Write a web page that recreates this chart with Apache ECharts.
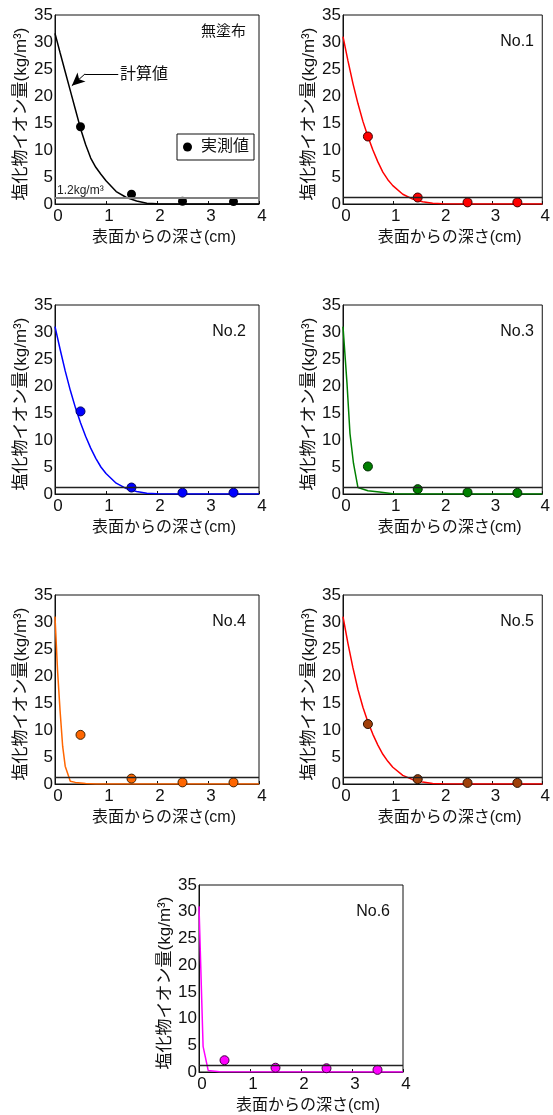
<!DOCTYPE html>
<html>
<head>
<meta charset="utf-8">
<script src="https://cdn.jsdelivr.net/npm/echarts@6/dist/echarts.min.js"></script>
<style>
  html, body { margin: 0; padding: 0; background: #fff; }
  #chart { width: 553px; height: 1115px; }
</style>
</head>
<body>
<div id="chart"></div>
<script>
// ---- data ---------------------------------------------------------------
// Depth from surface (cm) of the measured slices
const measuredDepth = [0.5, 1.5, 2.5, 3.5];

// Panel labels
const panelTitles = ['無塗布', 'No.1', 'No.2', 'No.3', 'No.4', 'No.5', 'No.6'];

// Measured chloride ion content (kg/m3)
const measuredNone = [14.3, 1.8, 0.5, 0.45];
const measuredNo1  = [12.5, 1.2, 0.3, 0.3];
const measuredNo2  = [15.3, 1.2, 0.25, 0.25];
const measuredNo3  = [5.1, 0.9, 0.3, 0.2];
const measuredNo4  = [9.1, 1.0, 0.3, 0.3];
const measuredNo5  = [11.1, 0.9, 0.2, 0.2];
const measuredNo6  = [2.2, 0.8, 0.7, 0.4];

// Calculated profiles: depth (cm) and chloride content (kg/m3)
const calcDepthNone = [0, 0.1, 0.2, 0.3, 0.4, 0.5, 0.6, 0.7, 0.8, 0.9, 1.0, 1.2, 1.4, 1.6, 1.8, 2.0, 2.5, 3.0, 4.0];
const calcNone      = [31.6, 28.0, 24.5, 21.0, 17.5, 14.0, 11.0, 8.5, 6.8, 5.5, 4.3, 2.3, 1.2, 0.55, 0.15, 0.03, 0, 0, 0];

const calcDepthNo1 = [0, 0.1, 0.2, 0.3, 0.4, 0.5, 0.6, 0.7, 0.8, 0.9, 1.0, 1.2, 1.4, 1.6, 1.8, 2.0, 2.5, 4.0];
const calcNo1      = [31.0, 26.5, 22.3, 18.6, 15.3, 12.5, 10.0, 7.8, 5.9, 4.5, 3.4, 1.8, 0.9, 0.4, 0.12, 0.03, 0, 0];

const calcDepthNo2 = [0, 0.1, 0.2, 0.3, 0.4, 0.5, 0.6, 0.7, 0.8, 0.9, 1.0, 1.2, 1.4, 1.6, 1.8, 2.0, 2.5, 4.0];
const calcNo2      = [31.0, 26.8, 22.8, 19.2, 16.0, 13.2, 10.7, 8.5, 6.6, 5.0, 3.8, 2.0, 1.0, 0.45, 0.15, 0.04, 0, 0];

const calcDepthNo3 = [0, 0.08, 0.14, 0.21, 0.3, 0.5, 0.73, 1.0, 1.5, 4.0];
const calcNo3      = [31.0, 20.5, 11.2, 5.7, 1.2, 0.6, 0.35, 0.05, 0, 0];

const calcDepthNo4 = [0, 0.05, 0.1, 0.15, 0.2, 0.3, 0.4, 0.6, 0.8, 4.0];
const calcNo4      = [31.0, 21.0, 13.5, 7.0, 3.3, 0.5, 0.3, 0.1, 0, 0];

const calcDepthNo5 = [0, 0.1, 0.2, 0.3, 0.4, 0.5, 0.6, 0.7, 0.8, 0.9, 1.0, 1.2, 1.4, 1.6, 1.8, 2.0, 2.5, 4.0];
const calcNo5      = [31.0, 26.0, 21.5, 17.5, 14.2, 11.5, 9.2, 7.2, 5.5, 4.2, 3.1, 1.6, 0.8, 0.35, 0.1, 0.03, 0, 0];

const calcDepthNo6 = [0, 0.08, 0.18, 0.4, 4.0];
const calcNo6      = [31.0, 4.8, 0.3, 0.05, 0];

// Reference limit for chloride content
const limitValue = 1.2;
const limitLabel = '1.2kg/m³';

// Axis ranges
const depthMin = 0, depthMax = 4, depthStep = 1;
const contentMin = 0, contentMax = 35, contentStep = 5;

// ---- styling / layout -----------------------------------------------------
const panels = [
  { title: panelTitles[0], depth: calcDepthNone, calc: calcNone, meas: measuredNone,
    line: '#000000', dot: '#000000', dotBorder: '#000000', rect: [55, 15, 204, 189] },
  { title: panelTitles[1], depth: calcDepthNo1, calc: calcNo1, meas: measuredNo1,
    line: '#ff0000', dot: '#ff0000', dotBorder: '#3a0000', rect: [343, 15, 204, 189] },
  { title: panelTitles[2], depth: calcDepthNo2, calc: calcNo2, meas: measuredNo2,
    line: '#0000ff', dot: '#0000ff', dotBorder: '#000060', rect: [55, 305, 204, 189] },
  { title: panelTitles[3], depth: calcDepthNo3, calc: calcNo3, meas: measuredNo3,
    line: '#008000', dot: '#008000', dotBorder: '#002800', rect: [343, 305, 204, 189] },
  { title: panelTitles[4], depth: calcDepthNo4, calc: calcNo4, meas: measuredNo4,
    line: '#ff6600', dot: '#ff6600', dotBorder: '#402000', rect: [55, 595, 204, 189] },
  { title: panelTitles[5], depth: calcDepthNo5, calc: calcNo5, meas: measuredNo5,
    line: '#ff0000', dot: '#a0400a', dotBorder: '#2a1000', rect: [343, 595, 204, 189] },
  { title: panelTitles[6], depth: calcDepthNo6, calc: calcNo6, meas: measuredNo6,
    line: '#ff00ff', dot: '#ff00ff', dotBorder: '#400040', rect: [199, 885, 204, 191] }
];

const FONT = "'Liberation Sans', Arial, 'Noto Sans CJK JP', sans-serif";
const INK = '#111';

// Arrow for the "計算値" callout, in data units of the first panel
const calloutPath = [[1.24, 24.1], [0.59, 24.1], [0.33, 21.9]];

const grids = [], xAxes = [], yAxes = [], series = [], graphics = [];

panels.forEach((p, i) => {
  const [left, top, width, height] = p.rect;
  grids.push({ left, top, width, height, show: true, borderColor: INK, borderWidth: 1,
               containLabel: false });

  xAxes.push({
    type: 'value', gridIndex: i, min: depthMin, max: depthMax, interval: depthStep,
    name: '表面からの深さ(cm)', nameLocation: 'middle', nameGap: 26,
    nameTextStyle: { fontFamily: FONT, fontSize: 16, color: INK, padding: [0, 0, 0, 14] },
    axisLine: { show: true, onZero: false, lineStyle: { color: INK, width: 1 } },
    axisTick: { show: true, inside: true, length: 3, lineStyle: { color: INK } },
    axisLabel: { fontFamily: FONT, fontSize: 17, color: INK, margin: 4, padding: [0, 0, 0, 6] },
    splitLine: { show: false }
  });

  yAxes.push({
    type: 'value', gridIndex: i, min: contentMin, max: contentMax, interval: contentStep,
    name: '塩化物イオン量(kg/m³)', nameLocation: 'middle', nameRotate: 90, nameGap: 24,
    nameTextStyle: { fontFamily: FONT, fontSize: 17, color: INK, padding: [0, 9, 0, 0] },
    axisLine: { show: true, onZero: false, lineStyle: { color: INK, width: 1 } },
    axisTick: { show: false },
    axisLabel: { fontFamily: FONT, fontSize: 17, color: INK, margin: 2, padding: [7, 0, 0, 0] },
    splitLine: { show: false }
  });

  const markData = [{
    yAxis: limitValue,
    lineStyle: i === 0 ? { color: '#808080', width: 2, type: 'solid' }
                       : { color: '#222', width: 1.3, type: 'solid' },
    label: i === 0
      ? { show: true, position: 'insideStartTop', formatter: limitLabel, distance: [2, 1],
          fontFamily: FONT, fontSize: 12, color: '#222' }
      : { show: false }
  }];
  if (i === 0) {
    markData.push([
      { coord: calloutPath[0], symbol: 'none', lineStyle: { color: '#000', width: 1, type: 'solid' }, label: { show: false } },
      { coord: calloutPath[1], symbol: 'none' }
    ]);
    markData.push([
      { coord: calloutPath[1], symbol: 'none', lineStyle: { color: '#000', width: 1, type: 'solid' }, label: { show: false } },
      { coord: calloutPath[2], symbol: 'arrow', symbolSize: [9, 13] }
    ]);
  }

  series.push({
    name: '計算値 ' + p.title, type: 'line', xAxisIndex: i, yAxisIndex: i,
    data: p.depth.map((d, k) => [d, p.calc[k]]),
    showSymbol: false, smooth: false, clip: true,
    lineStyle: { color: p.line, width: 1.5 }, itemStyle: { color: p.line },
    z: 2,
    markLine: { silent: true, symbol: 'none', animation: false, data: markData }
  });

  series.push({
    name: i === 0 ? '実測値' : '実測値 ' + p.title, type: 'scatter', xAxisIndex: i, yAxisIndex: i,
    data: measuredDepth.map((d, k) => [d, p.meas[k]]),
    symbol: 'circle', symbolSize: 9,
    itemStyle: { color: p.dot, borderColor: p.dotBorder, borderWidth: i === 0 ? 0 : 1, opacity: 1 },
    z: 3
  });

  // panel label in the upper right corner
  graphics.push({
    type: 'text', x: left + width - 13, y: top + (i === 0 ? 17 : 27),
    style: { text: p.title, font: (i === 0 ? '15px ' : '16px ') + FONT, fill: INK,
             align: 'right', verticalAlign: 'middle' }
  });
});

// "計算値" callout text
graphics.push({
  type: 'text', x: 120, y: 75,
  style: { text: '計算値', font: '16px ' + FONT, fill: INK, align: 'left', verticalAlign: 'middle' }
});

const option = {
  animation: false,
  backgroundColor: '#fff',
  grid: grids,
  xAxis: xAxes,
  yAxis: yAxes,
  legend: {
    data: ['実測値'], left: 177, top: 134, orient: 'horizontal',
    borderColor: INK, borderWidth: 1, padding: [5, 5, 5, 6],
    icon: 'circle', itemWidth: 9, itemHeight: 9, itemGap: 0,
    textStyle: { fontFamily: FONT, fontSize: 16, color: INK, padding: [0, 0, 0, 4] },
    selectedMode: false
  },
  series: series,
  graphic: graphics
};

const chart = echarts.init(document.getElementById('chart'), null, { renderer: 'canvas' });
chart.setOption(option);
</script>
</body>
</html>
